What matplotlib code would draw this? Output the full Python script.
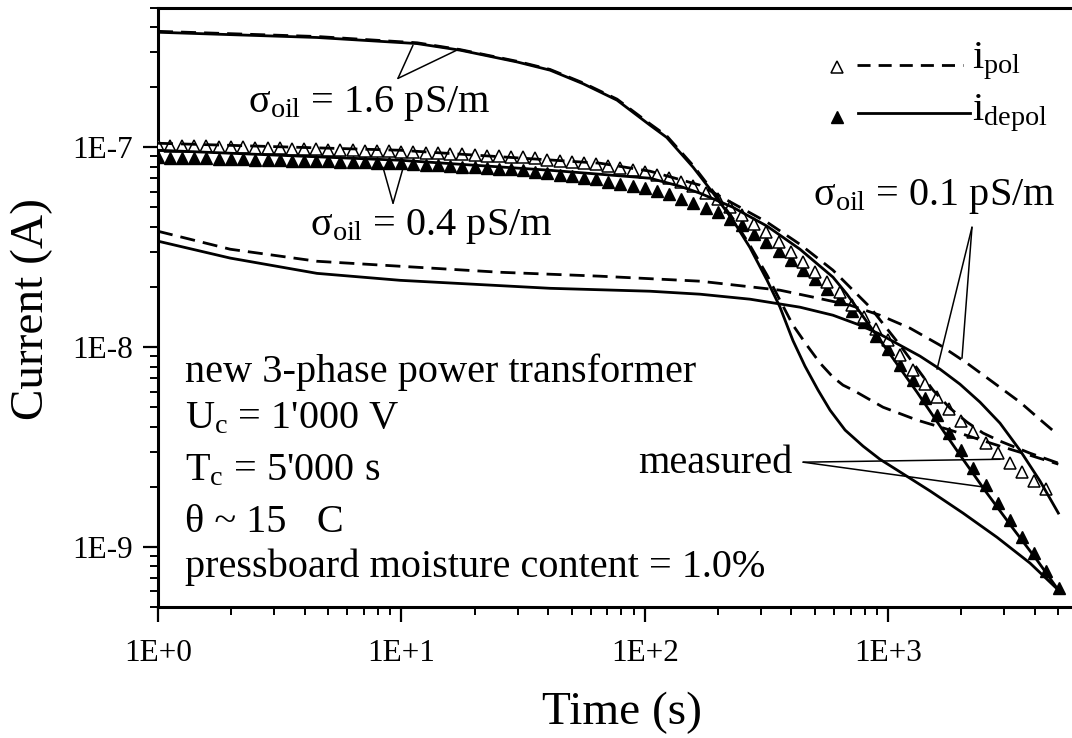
import matplotlib
matplotlib.use('Agg')
import matplotlib.pyplot as plt
from matplotlib.ticker import FixedLocator, FixedFormatter, LogLocator, NullFormatter
from matplotlib.lines import Line2D

plt.rcParams['font.family'] = ['Liberation Serif', 'DejaVu Serif']
plt.rcParams['mathtext.fontset'] = 'custom'
plt.rcParams['mathtext.rm'] = 'Liberation Serif'
plt.rcParams['mathtext.it'] = 'Liberation Serif:italic'
plt.rcParams['mathtext.bf'] = 'Liberation Serif:bold'

# ---------------- data ----------------
# measured time points (s)
t_meas = [1.0, 1.12, 1.26, 1.41, 1.58, 1.78, 2.0, 2.24, 2.51, 2.82,
          3.16, 3.55, 3.98, 4.47, 5.01, 5.62, 6.31, 7.08, 7.94, 8.91,
          10.0, 11.2, 12.6, 14.1, 15.8, 17.8, 20.0, 22.4, 25.1, 28.2,
          31.6, 35.5, 39.8, 44.7, 50.1, 56.2, 63.1, 70.8, 79.4, 89.1,
          100, 112, 126, 141, 158, 178, 200, 224, 251, 282,
          316, 355, 398, 447, 501, 562, 631, 708, 794, 891,
          1000, 1122, 1259, 1413, 1585, 1778, 1995, 2239, 2512, 2818,
          3162, 3548, 3981, 4467, 5012]
# measured polarisation current (1e-7 A)
i_pol_meas = [1.023, 1.020, 1.016, 1.013, 1.009, 1.006, 1.002, 0.999, 0.995, 0.992,
              0.989, 0.985, 0.981, 0.977, 0.973, 0.969, 0.965, 0.961, 0.957, 0.953,
              0.950, 0.944, 0.938, 0.932, 0.926, 0.920, 0.914, 0.908, 0.903, 0.897,
              0.891, 0.879, 0.868, 0.856, 0.844, 0.834, 0.822, 0.804, 0.785, 0.767,
              0.750, 0.724, 0.700, 0.668, 0.638, 0.592, 0.550, 0.501, 0.457, 0.414,
              0.376, 0.335, 0.299, 0.266, 0.237, 0.211, 0.188, 0.163, 0.141, 0.124,
              0.108, 0.0912, 0.0767, 0.0657, 0.0562, 0.0490, 0.0427, 0.0376, 0.0331, 0.0295,
              0.0263, 0.0237, 0.0214, 0.0195]
# measured depolarisation current (1e-7 A)
i_depol_meas = [0.891, 0.888, 0.885, 0.882, 0.879, 0.876, 0.873, 0.870, 0.867, 0.864,
                0.861, 0.858, 0.855, 0.852, 0.849, 0.846, 0.843, 0.840, 0.838, 0.835,
                0.832, 0.825, 0.819, 0.812, 0.805, 0.799, 0.793, 0.786, 0.780, 0.774,
                0.767, 0.754, 0.741, 0.729, 0.716, 0.704, 0.692, 0.674, 0.657, 0.640,
                0.624, 0.603, 0.582, 0.553, 0.525, 0.498, 0.473, 0.439, 0.407, 0.369,
                0.335, 0.302, 0.272, 0.244, 0.219, 0.195, 0.174, 0.152, 0.133, 0.114,
                0.0977, 0.0818, 0.0684, 0.0559, 0.0457, 0.0374, 0.0305, 0.0250, 0.0204, 0.0167,
                0.0136, 0.0113, 0.00933, 0.00763, 0.00624]

# model, sigma_oil = 1.6 pS/m
t_16_depol = [1, 4.5, 11.6, 17.4, 29.9, 40.8, 55.7, 76.9, 105, 123, 158, 191, 230, 270,
              318, 359, 406, 455, 515, 577, 665, 788, 925, 1087, 1485, 2029, 2799, 3824, 5000]
i_16_depol = [3.76, 3.54, 3.30, 3.06, 2.67, 2.43, 2.08, 1.72, 1.29, 1.12, 0.794, 0.589, 0.432, 0.316,
              0.216, 0.159, 0.108, 0.0804, 0.0610, 0.0484, 0.0385, 0.0320, 0.0275, 0.0243, 0.0191,
              0.0148, 0.0112, 0.00832, 0.0061]
t_16_pol = [1, 4.5, 11.6, 17.4, 29.9, 40.8, 55.7, 76.9, 105, 123, 158, 191, 230, 270,
            318, 359, 406, 464, 525, 593, 652, 717, 952, 1313, 1795, 2879, 3824, 5000]
i_16_pol = [3.80, 3.58, 3.33, 3.08, 2.69, 2.45, 2.10, 1.74, 1.31, 1.14, 0.81, 0.60, 0.44, 0.324,
            0.229, 0.172, 0.129, 0.102, 0.0832, 0.0708, 0.0646, 0.0610, 0.0501, 0.0432, 0.0385,
            0.0320, 0.0288, 0.0260]

# model, sigma_oil = 0.4 pS/m
t_04_depol = [1, 9.87, 40.8, 105, 139.5, 168.6, 230, 318, 434, 593, 677, 766, 1017, 1313,
              1633, 2029, 2546, 3256, 4087, 5000]
i_04_depol = [0.966, 0.861, 0.767, 0.700, 0.638, 0.589, 0.501, 0.403, 0.309, 0.224, 0.184,
              0.1496, 0.0923, 0.0596, 0.0403, 0.0275, 0.0186, 0.0124, 0.00861, 0.0061]
t_04_pol = [1, 9.87, 65.5, 105, 168.6, 246, 318, 434, 593, 842, 1118, 1313, 1528, 1795, 2107,
            2452, 2879, 3824, 5000]
i_04_pol = [1.047, 0.966, 0.832, 0.759, 0.646, 0.501, 0.4217, 0.327, 0.2427, 0.1585, 0.1023,
            0.0785, 0.0610, 0.0495, 0.0422, 0.0372, 0.0339, 0.0295, 0.0263]

# model, sigma_oil = 0.1 pS/m
t_01_depol = [1, 1.98, 4.5, 9.87, 40.8, 105, 168.6, 270.5, 434, 593, 766, 925, 1118, 1351,
              1633, 1972, 2383, 2879, 3479, 4205, 5000]
i_01_depol = [0.339, 0.279, 0.234, 0.216, 0.197, 0.1905, 0.1841, 0.1738, 0.1585, 0.1445, 0.1288,
              0.1161, 0.1023, 0.0902, 0.0776, 0.0653, 0.0531, 0.0417, 0.0305, 0.0214, 0.0148]
t_01_pol = [1, 1.98, 4.5, 9.87, 25.4, 65.5, 169, 359, 491, 697, 925, 1229, 1633, 2107, 2695,
            3479, 4325, 5000]
i_01_pol = [0.380, 0.309, 0.269, 0.254, 0.237, 0.2265, 0.2138, 0.1928, 0.178, 0.1622, 0.1445,
            0.1245, 0.1023, 0.0832, 0.0668, 0.0531, 0.0422, 0.0363]

UNIT = 1e-7
x_ticks = [1, 10, 100, 1000]
x_ticklabels = ['1E+0', '1E+1', '1E+2', '1E+3']
y_ticks = [1e-9, 1e-8, 1e-7]
y_ticklabels = ['1E-9', '1E-8', '1E-7']


def sc(v):
    return [x * UNIT for x in v]


# ---------------- figure ----------------
W, H = 1072, 738
fig = plt.figure(figsize=(W / 100, H / 100), dpi=100)
ax = fig.add_axes([158 / W, 1 - 607.3 / H, (W - 158) / W, (607.3 - 7.5) / H])
ax.set_xscale('log')
ax.set_yscale('log')
ax.set_xlim(1, 5690)
ax.set_ylim(5e-10, 5e-7)

LW = 2.0
DASH = (0, (5.4, 2.9))

# measured markers
ax.plot(t_meas, sc(i_depol_meas), linestyle='none', marker='^', ms=8.8,
        mfc='black', mec='black', mew=1.0, zorder=3)
ax.plot(t_meas[:len(i_pol_meas)], sc(i_pol_meas), linestyle='none', marker='^', ms=8.8,
        mfc='white', mec='black', mew=1.1, zorder=4)

# model curves
ax.plot(t_16_pol, sc(i_16_pol), color='black', lw=LW, linestyle=DASH, zorder=5)
ax.plot(t_16_depol, sc(i_16_depol), color='black', lw=LW, zorder=5)
ax.plot(t_04_pol, sc(i_04_pol), color='black', lw=LW, linestyle=DASH, zorder=5)
ax.plot(t_04_depol, sc(i_04_depol), color='black', lw=LW, zorder=5)
ax.plot(t_01_pol, sc(i_01_pol), color='black', lw=LW, linestyle=DASH, zorder=5)
ax.plot(t_01_depol, sc(i_01_depol), color='black', lw=LW, zorder=5)

# axes styling
for side in ['left', 'bottom', 'top']:
    ax.spines[side].set_linewidth(2.2)
ax.spines['right'].set_visible(False)

ax.xaxis.set_major_locator(FixedLocator(x_ticks))
ax.xaxis.set_major_formatter(FixedFormatter(x_ticklabels))
ax.xaxis.set_minor_locator(LogLocator(base=10, subs=[2, 3, 4, 5, 6, 7, 8, 9], numticks=20))
ax.xaxis.set_minor_formatter(NullFormatter())
ax.yaxis.set_major_locator(FixedLocator(y_ticks))
ax.yaxis.set_major_formatter(FixedFormatter(y_ticklabels))
ax.yaxis.set_minor_locator(LogLocator(base=10, subs=[2, 3, 4, 5, 6, 7, 8, 9], numticks=20))
ax.yaxis.set_minor_formatter(NullFormatter())

ax.tick_params(which='major', direction='out', length=11, width=1.6, labelsize=22.5)
ax.tick_params(which='minor', direction='out', length=5.5, width=1.4)
ax.tick_params(axis='x', which='major', pad=12)
ax.tick_params(axis='y', which='major', pad=7)
ax.tick_params(top=False, right=False, which='both')

# axis titles
fig.text(622 / W, 1 - 724 / H, 'Time (s)', fontsize=34, ha='center', va='baseline')
fig.text(31.5 / W, 1 - 308.5 / H, 'Current (A)', fontsize=34, ha='center', va='center',
         rotation=90)

# annotation texts
FS = 29


def ftext(x, y, s, **kw):
    fig.text(x / W, 1 - y / H, s, fontsize=FS, ha='left', va='baseline', **kw)


ftext(248, 112, r'$\mathrm{σ_{oil}}$ = 1.6 pS/m')
ftext(310, 235, r'$\mathrm{σ_{oil}}$ = 0.4 pS/m')
ftext(813, 205, r'$\mathrm{σ_{oil}}$ = 0.1 pS/m')
ftext(638, 473, 'measured')
ftext(185, 382, 'new 3-phase power transformer')
ftext(185, 428, "$\\mathrm{U_c}$ = 1'000 V")
ftext(185, 480, "$\\mathrm{T_c}$ = 5'000 s")
ftext(185, 532, 'θ ~ 15   C')
ftext(185, 577, 'pressboard moisture content = 1.0%')

# pointer lines (data coordinates)
pointers = [
    ((9.68, 2.21e-7), [(11.16, 3.24e-7), (16.9, 3.06e-7)]),
    ((9.24, 5.25e-8), [(8.40, 7.94e-8), (10.15, 7.85e-8)]),
    ((2209, 3.98e-8), [(1587, 7.76e-9), (2010, 8.81e-9)]),
    ((447, 2.66e-9), [(2879, 2.75e-9), (2452, 2.0e-9)]),
]
for start, ends in pointers:
    for e in ends:
        ax.annotate('', xy=e, xytext=start,
                    arrowprops=dict(arrowstyle='-', lw=1.1, color='black',
                                    shrinkA=0, shrinkB=0), zorder=6)


# legend (figure pixel coordinates)
def fl(xs, ys, **kw):
    fig.add_artist(Line2D([x / W for x in xs], [1 - y / H for y in ys],
                          transform=fig.transFigure, color='black', **kw))


fl([837], [67], marker='^', ms=9, mfc='white', mec='black', mew=1.1, linestyle='none')
fl([857, 963], [65, 65], lw=2.0, linestyle=(0, (4.7, 2.9)))
fl([837], [117], marker='^', ms=9, mfc='black', mec='black', linestyle='none')
fl([858, 970], [113, 113], lw=2.0)
ftext(972, 68, r'$\mathrm{i_{pol}}$')
ftext(972, 120, r'$\mathrm{i_{depol}}$')

fig.savefig('out.png', dpi=100)
